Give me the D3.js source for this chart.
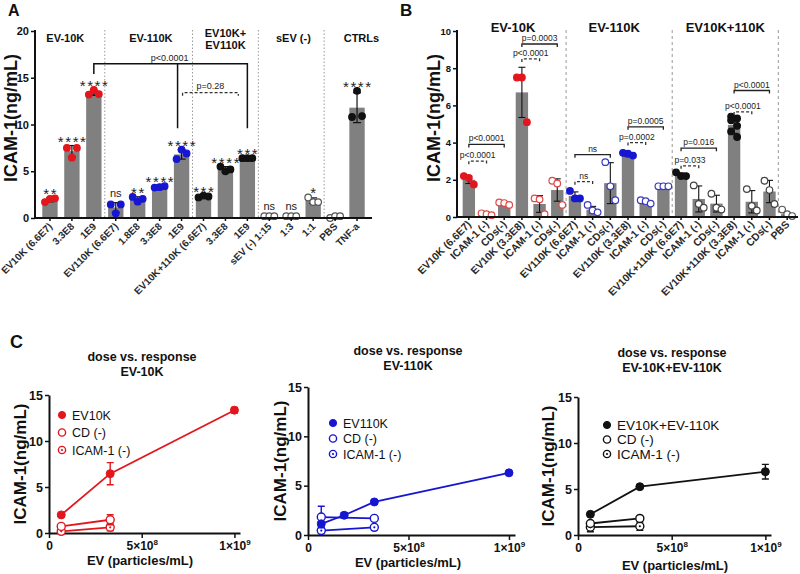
<!DOCTYPE html>
<html><head><meta charset="utf-8">
<script src="https://cdn.jsdelivr.net/npm/d3@7"></script>
<style>body{margin:0;background:#fff} svg{font-family:Arial,"Liberation Sans",sans-serif}</style>
</head><body><svg id="c" width="800" height="574"></svg>
<script>
// ---------------- DATA ----------------
// Panel A
const catsA = ["EV10K (6.6E7)","3.3E8","1E9","EV110K (6.6E7)","1.8E8","3.3E8","1E9","EV10K+110K (6.6E7)","3.3E8","1E9","sEV (-) 1:15","1:3","1:1","PBS","TNF-a"];
const seriesA = ["EV-10K","EV-10K","EV-10K","EV-110K","EV-110K","EV-110K","EV-110K","mix","mix","mix","sEV","sEV","sEV","PBS","TNF"];
const meanA = [1.93,7.15,13.4,1.12,2.02,3.32,6.8,2.3,5.2,6.4,0.2,0.2,1.85,0.13,11.8];
const sdA   = [0.2,0.6,0.28,0.52,0.25,0.08,0.5,0.1,0.3,0.05,0.03,0.03,0.3,0.1,1.6];
const ptsA  = [[1.7,2.05,2.1],[7.5,6.45,7.5],[13.2,13.7,13.25],[1.45,0.5,1.45],[2.25,1.75,2.05],[3.25,3.3,3.4],[6.3,7.3,6.9],[2.2,2.4,2.3],[5.5,5.0,5.2],[6.4,6.4,6.4],[0.2,0.2,0.2],[0.2,0.2,0.2],[2.2,1.7,1.7],[0.0,0.2,0.2],[10.8,13.6,10.9]];
const starsA = ["**","****","****","ns","**","****","****","***","****","***","ns","ns","*","","****"];
const groupLabelsA = [["EV-10K"],["EV-110K"],["EV10K+","EV110K"],["sEV (-)"],["CTRLs"]];
const yTicksA = [0,5,10,15,20];

// Panel B
const catsB = ["EV10K (6.6E7)","ICAM-1 (-)","CDs(-)","EV10K (3.3E8)","ICAM-1 (-)","CDs(-)","EV110K (6.6E7)","ICAM-1 (-)","CDs(-)","EV110K (3.3E8)","ICAM-1 (-)","CDs(-)","EV10K+110K (6.6E7)","ICAM-1 (-)","CDs(-)","EV10K+110K (3.3E8)","ICAM-1 (-)","CDs(-)","PBS"];
const seriesB = ["EV-10K","EV-10K","EV-10K","EV-10K","EV-10K","EV-10K","EV-110K","EV-110K","EV-110K","EV-110K","EV-110K","EV-110K","mix","mix","mix","mix","mix","mix","PBS"];
const treatedB = [true,false,false,true,false,false,true,false,false,true,false,false,true,false,false,true,false,false,false];
const meanB = [2.0,0.15,0.72,6.7,0.7,1.45,1.13,0.4,1.82,3.35,0.82,1.65,2.25,0.97,0.72,4.95,0.82,1.37,0.15];
const sdB   = [0.2,0.05,0.06,1.35,0.45,0.6,0.22,0.17,1.1,0.1,0.1,0.02,0.12,0.7,0.45,0.45,0.6,0.6,0];
const ptsB  = [[2.2,2.1,1.75],[0.2,0.15,0.1],[0.78,0.75,0.65],[7.5,7.5,5.1],[1.0,0.95,0.15],[1.95,1.8,0.65],[1.4,1.0,1.0],[0.65,0.35,0.25],[2.95,1.65,0.9],[3.45,3.4,3.3],[0.9,0.85,0.72],[1.65,1.65,1.65],[2.4,2.2,2.2],[1.7,0.7,0.5],[1.25,0.5,0.4],[5.4,5.3,5.2,4.9,4.6,4.3],[1.5,0.6,0.35],[1.95,1.45,0.7],[0.4,0.15,0.05]];
const groupLabelsB = ["EV-10K","EV-110K","EV10K+110K"];
const yTicksB = [0,2,4,6,8,10];
// comparisons: [from, to, y (ng/mL), label, dashed]
const compsB = [[0,1,3.0,"p<0.0001",true],[0,2,3.9,"p<0.0001",false],[3,4,8.5,"p<0.0001",true],[3,5,9.3,"p=0.0003",false],
  [6,7,1.9,"ns",true],[6,8,3.35,"ns",false],[9,10,4.0,"p=0.0002",true],[9,11,4.85,"p=0.0005",false],
  [12,13,2.75,"p=0.033",true],[12,14,3.7,"p=0.016",false],[15,16,5.65,"p<0.0001",true],[15,17,6.8,"p<0.0001",false]];

// Panel C
const doseEV10K = [6.6e7,3.3e8,1e9];
const doseEV110K = [6.6e7,1.8e8,3.3e8,1e9];
const doseCtrl = [6.6e7,3.3e8];
const c10K_ev = [1.97,6.45,13.35],  c10K_evErr = [0.15,1.2,0.3];
const c10K_cd = [0.72,1.44],        c10K_cdErr = [0.06,0.55];
const c10K_icam = [0.18,0.62],      c10K_icamErr = [0.05,0.38];
const c110K_ev = [1.13,2.0,3.35,6.3], c110K_evErr = [0.22,0.25,0.1,0.05];
const c110K_cd = [1.82,1.68],       c110K_cdErr = [1.1,0.03];
const c110K_icam = [0.45,0.78],     c110K_icamErr = [0.17,0.1];
const cMix_ev = [2.25,5.25,6.88],   cMix_evErr = [0.12,0.1,0.8];
const cMix_cd = [1.25,1.8],         cMix_cdErr = [0.1,0.1];
const cMix_icam = [0.85,0.95],      cMix_icamErr = [0.5,0.45];
const xTicksC = [0,5e8,1e9];
const yTicksC = [0,5,10,15];

// ---------------- STYLE ----------------
const RED="#e3161e", BLUE="#1616d2", BLACK="#111", BAR="#808080";
const colorOf = {"EV-10K":RED,"EV-110K":BLUE,"mix":BLACK,"sEV":"#555","PBS":"#555","TNF":BLACK};
const openStroke = {"EV-10K":"#e04848","EV-110K":"#3a3ac4","mix":"#444","PBS":"#555"};

const svg = d3.select("#c");
svg.append("rect").attr("width",800).attr("height",574).attr("fill","#fff");

function jitter(n,i){ if(n===3) return [-5,0,5][i]; if(n===6) return [-3,3,-3,3,-3,3][i]; return 0; }
function styleAxis(g, fs){
  g.select(".domain").attr("stroke","#111").attr("stroke-width",2);
  g.selectAll(".tick line").attr("stroke","#111").attr("stroke-width",1.5);
  g.selectAll(".tick text").attr("fill","#111").attr("font-weight","bold").attr("font-size",fs);
}
function bracket(g,x1,x2,y,dashed,tick){
  const p = d3.path(); p.moveTo(x1,y+tick); p.lineTo(x1,y); p.lineTo(x2,y); p.lineTo(x2,y+tick);
  g.append("path").attr("d",p.toString()).attr("fill","none").attr("stroke",dashed?"#333":"#222")
    .attr("stroke-width",1.3).attr("stroke-dasharray",dashed?"3,2":null);
}

// ---------------- PANEL A ----------------
(function(){
  const g = svg.append("g");
  const y = d3.scaleLinear().domain([0,20]).range([218,31]);
  const x = d3.scaleBand().domain(d3.range(catsA.length)).range([39,368]).paddingInner(0.3).paddingOuter(0.15);
  const cx = i => x(i)+x.bandwidth()/2;
  [2,6,9,12].forEach(i=>{
    const xs=(cx(i)+cx(i+1))/2;
    g.append("line").attr("x1",xs).attr("x2",xs).attr("y1",30).attr("y2",218).attr("stroke","#999").attr("stroke-width",1).attr("stroke-dasharray","1.5,2");
  });
  g.selectAll("rect.bar").data(meanA).join("rect").attr("x",(d,i)=>x(i)).attr("width",x.bandwidth())
    .attr("y",d=>y(d)).attr("height",d=>y(0)-y(d)).attr("fill",BAR);
  meanA.forEach((m,i)=>{
    const c=cx(i), t=y(m+sdA[i]), b=y(Math.max(0,m-sdA[i]));
    g.append("line").attr("x1",c).attr("x2",c).attr("y1",t).attr("y2",b).attr("stroke","#111").attr("stroke-width",1.2);
    g.append("line").attr("x1",c-4).attr("x2",c+4).attr("y1",t).attr("y2",t).attr("stroke","#111").attr("stroke-width",1.2);
    g.append("line").attr("x1",c-4).attr("x2",c+4).attr("y1",b).attr("y2",b).attr("stroke","#111").attr("stroke-width",1.2);
  });
  ptsA.forEach((arr,i)=>{
    const s=seriesA[i], open=(s==="sEV"||s==="PBS");
    arr.forEach((v,j)=>{
      g.append("circle").attr("cx",cx(i)+jitter(arr.length,j)).attr("cy",y(v)).attr("r",3.3)
        .attr("fill",open?"#fff":colorOf[s]).attr("stroke",open?"#555":colorOf[s]).attr("stroke-width",1.2);
    });
  });
  starsA.forEach((s,i)=>{
    if(!s) return;
    const top=y(Math.max(meanA[i]+sdA[i], d3.max(ptsA[i])));
    const isNs = s==="ns";
    g.append("text").attr("x",cx(i)+(isNs?0:0.8)).attr("y",top-(isNs?6:-1)).attr("text-anchor","middle")
      .attr("font-size",isNs?11:15).attr("letter-spacing",isNs?0:1.6).attr("fill","#222").text(s);
  });
  const ya = g.append("g").attr("transform","translate(35,0)").call(d3.axisLeft(y).tickValues(yTicksA).tickSize(4).tickPadding(2).tickSizeOuter(0));
  styleAxis(ya,11);
  ya.select(".domain").attr("d","M0,218V30");
  const xa = g.append("g").attr("transform","translate(0,218)").call(d3.axisBottom(x).tickSize(3).tickSizeOuter(0).tickFormat(i=>catsA[i]));
  styleAxis(xa,10);
  xa.select(".domain").attr("d","M35,0H372");
  xa.selectAll(".tick text").attr("y",0).attr("dy",0).attr("transform","translate(3,9) rotate(-45)").attr("text-anchor","end").attr("fill","#2a2a2a");
  const gpos=[0.7,4.6,8,11.1,14.2];
  groupLabelsA.forEach((lines,k)=>{
    const xx = x(0)+x.bandwidth()/2 + gpos[k]*x.step();
    lines.forEach((t,li)=>{
      g.append("text").attr("x",xx).attr("y",lines.length>1?37+li*12:42).attr("text-anchor","middle")
        .attr("font-weight","bold").attr("font-size",11).attr("fill","#111").text(t);
    });
  });
  const yl=y(16.5), xl=cx(2), xm=cx(6)-4, xr=cx(9);
  g.append("path").attr("d",`M${xl},${y(15.4)}V${yl}H${xr}V${y(9.6)}M${xm},${yl}V${y(9.6)}`).attr("fill","none").attr("stroke","#111").attr("stroke-width",1.5);
  g.append("text").attr("x",xm-8).attr("y",yl-3).attr("text-anchor","middle").attr("font-size",9).attr("fill","#222").text("p<0.0001");
  const yd=y(13.4);
  bracket(g,cx(6)+1,cx(9)-9,yd,true,3);
  g.append("text").attr("x",(cx(6)+cx(9)-8)/2).attr("y",yd-4).attr("text-anchor","middle").attr("font-size",9).attr("fill","#222").text("p=0.28");
  g.append("text").attr("transform","translate(17,118) rotate(-90)").attr("text-anchor","middle").attr("font-weight","bold").attr("font-size",18).attr("fill","#111").text("ICAM-1(ng/mL)");
  g.append("text").attr("x",8).attr("y",16).attr("font-weight","bold").attr("font-size",16).attr("fill","#111").text("A");
})();

// ---------------- PANEL B ----------------
(function(){
  const g = svg.append("g");
  const y = d3.scaleLinear().domain([0,10]).range([217,31]);
  const x = d3.scaleBand().domain(d3.range(catsB.length)).range([460,796]).paddingInner(0.3).paddingOuter(0.15);
  const cx = i => x(i)+x.bandwidth()/2;
  [5,11,17].forEach(i=>{
    const xs=(cx(i)+cx(i+1))/2;
    g.append("line").attr("x1",xs).attr("x2",xs).attr("y1",30).attr("y2",217).attr("stroke","#999").attr("stroke-width",1).attr("stroke-dasharray","3,3");
  });
  g.selectAll("rect.bar").data(meanB).join("rect").attr("x",(d,i)=>x(i)).attr("width",x.bandwidth())
    .attr("y",d=>y(d)).attr("height",d=>y(0)-y(d)).attr("fill",BAR);
  meanB.forEach((m,i)=>{
    if(!sdB[i]) return;
    const c=cx(i), t=y(m+sdB[i]), b=y(Math.max(0,m-sdB[i]));
    g.append("line").attr("x1",c).attr("x2",c).attr("y1",t).attr("y2",b).attr("stroke","#111").attr("stroke-width",1.1);
    g.append("line").attr("x1",c-3.5).attr("x2",c+3.5).attr("y1",t).attr("y2",t).attr("stroke","#111").attr("stroke-width",1.1);
    g.append("line").attr("x1",c-3.5).attr("x2",c+3.5).attr("y1",b).attr("y2",b).attr("stroke","#111").attr("stroke-width",1.1);
  });
  ptsB.forEach((arr,i)=>{
    const s=seriesB[i], filled=treatedB[i];
    arr.forEach((v,j)=>{
      g.append("circle").attr("cx",cx(i)+jitter(arr.length,j)).attr("cy",y(v)).attr("r",3.3)
        .attr("fill",filled?colorOf[s]:"#fff").attr("stroke",filled?colorOf[s]:openStroke[s]).attr("stroke-width",1.2);
    });
  });
  compsB.forEach(([a,b,v,lab,dashed])=>{
    const yy=y(v);
    bracket(g,cx(a),cx(b),yy,dashed,3);
    g.append("text").attr("x",(cx(a)+cx(b))/2).attr("y",yy-3).attr("text-anchor","middle").attr("font-size",8.5).attr("fill","#222").text(lab);
  });
  const ya = g.append("g").attr("transform","translate(457,0)").call(d3.axisLeft(y).tickValues(yTicksB).tickSize(4).tickPadding(2).tickSizeOuter(0));
  styleAxis(ya,9.5);
  ya.select(".domain").attr("d","M0,217V30");
  const xa = g.append("g").attr("transform","translate(0,217)").call(d3.axisBottom(x).tickSize(3).tickSizeOuter(0).tickFormat(i=>catsB[i]));
  styleAxis(xa,10.5);
  xa.select(".domain").attr("d","M457,0H798");
  xa.selectAll(".tick text").attr("y",0).attr("dy",0).attr("transform","translate(3,8) rotate(-45)").attr("text-anchor","end").attr("fill","#2a2a2a");
  groupLabelsB.forEach((t,k)=>{
    const xx=(cx(k*6)+cx(k*6+5))/2 - (k===1?5:0);
    g.append("text").attr("x",xx).attr("y",32).attr("text-anchor","middle").attr("font-weight","bold").attr("font-size",13).attr("fill","#111").text(t);
  });
  g.append("text").attr("transform","translate(440,118) rotate(-90)").attr("text-anchor","middle").attr("font-weight","bold").attr("font-size",18).attr("fill","#111").text("ICAM-1(ng/mL)");
  g.append("text").attr("x",400).attr("y",16).attr("font-weight","bold").attr("font-size",17).attr("fill","#111").text("B");
})();

// ---------------- PANEL C ----------------
function marker(g,cx,cy,kind,col,r){
  if(kind==="fill"){ g.append("circle").attr("cx",cx).attr("cy",cy).attr("r",r).attr("fill",col).attr("stroke",col); return; }
  g.append("circle").attr("cx",cx).attr("cy",cy).attr("r",r).attr("fill","#fff").attr("stroke",col).attr("stroke-width",1.4);
  if(kind==="dot") g.append("circle").attr("cx",cx).attr("cy",cy).attr("r",1.1).attr("fill",col);
}
function linePanel(cfg){
  const g = svg.append("g");
  const x = d3.scaleLinear().domain([0,1.03e9]).range([cfg.x0,cfg.x1]);
  const y = d3.scaleLinear().domain([0,15]).range([cfg.y0,cfg.y1]);
  const ya = g.append("g").attr("transform",`translate(${cfg.x0},0)`).call(d3.axisLeft(y).tickValues(yTicksC).tickSize(4).tickPadding(2).tickSizeOuter(0));
  styleAxis(ya,12.5);
  const xa = g.append("g").attr("transform",`translate(0,${cfg.y0})`).call(d3.axisBottom(x).tickValues(xTicksC).tickSize(5).tickPadding(3).tickSizeOuter(0));
  styleAxis(xa,12);
  xa.selectAll(".tick text").each(function(d){
    const t=d3.select(this); t.text(null);
    if(d===0){ t.text("0"); return; }
    const e = d>=1e9?9:8, m=d/Math.pow(10,e);
    t.append("tspan").text(m+"×10");
    t.append("tspan").attr("dy",-5).attr("font-size",8).text(e);
  });
  const drawSeries=(xs,ys,es,kind)=>{
    const col=cfg.color;
    const line=d3.line().x((d,i)=>x(xs[i])).y(d=>y(d));
    g.append("path").attr("d",line(ys)).attr("fill","none").attr("stroke",col).attr("stroke-width",1.8);
    ys.forEach((v,i)=>{
      const c=x(xs[i]), t=y(v+es[i]), b=y(Math.max(0,v-es[i]));
      g.append("path").attr("d",`M${c},${t}V${b}M${c-3.5},${t}H${c+3.5}M${c-3.5},${b}H${c+3.5}`).attr("stroke",col).attr("stroke-width",1.4).attr("fill","none");
    });
    ys.forEach((v,i)=>marker(g,x(xs[i]),y(v),kind,col,4));
  };
  drawSeries(doseCtrl,cfg.icam,cfg.icamErr,"dot");
  drawSeries(doseCtrl,cfg.cd,cfg.cdErr,"open");
  drawSeries(cfg.evX,cfg.ev,cfg.evErr,"fill");
  cfg.legend.forEach((lab,k)=>{
    const yy=cfg.legY+k*cfg.legDy;
    marker(g,cfg.legX,yy,["fill","open","dot"][k],cfg.color,3.6);
    g.append("text").attr("x",cfg.legX+10).attr("y",yy).attr("dy","0.36em").attr("font-size",cfg.legFs).attr("fill","#111").text(lab);
  });
  cfg.title.forEach((t,k)=>g.append("text").attr("x",cfg.tx).attr("y",cfg.ty+k*14.5).attr("text-anchor","middle").attr("font-weight","bold").attr("font-size",12.5).attr("fill","#111").text(t));
  g.append("text").attr("x",cfg.xlx).attr("y",cfg.xly).attr("text-anchor","middle").attr("font-weight","bold").attr("font-size",13).attr("fill","#111").text("EV (particles/mL)");
  g.append("text").attr("transform",`translate(${cfg.ylx},${(cfg.y0+cfg.y1)/2}) rotate(-90)`).attr("dy","0.35em").attr("text-anchor","middle").attr("font-weight","bold").attr("font-size",17).attr("fill","#111").text("ICAM-1(ng/mL)");
}

linePanel({x0:49,x1:240,y0:533,y1:395,color:RED,evX:doseEV10K,ev:c10K_ev,evErr:c10K_evErr,cd:c10K_cd,cdErr:c10K_cdErr,icam:c10K_icam,icamErr:c10K_icamErr,
  legend:["EV10K","CD (-)","ICAM-1 (-)"],legX:62,legY:415,legDy:17.5,legFs:12.5,title:["dose vs. response","EV-10K"],tx:142,ty:361,xlx:140,xly:565,ylx:20});
linePanel({x0:308,x1:515,y0:535,y1:387,color:BLUE,evX:doseEV110K,ev:c110K_ev,evErr:c110K_evErr,cd:c110K_cd,cdErr:c110K_cdErr,icam:c110K_icam,icamErr:c110K_icamErr,
  legend:["EV110K","CD (-)","ICAM-1 (-)"],legX:333,legY:423,legDy:15.5,legFs:12.5,title:["dose vs. response","EV-110K"],tx:408,ty:355,xlx:408,xly:567,ylx:280});
linePanel({x0:578,x1:771,y0:535,y1:397,color:BLACK,evX:doseEV10K,ev:cMix_ev,evErr:cMix_evErr,cd:cMix_cd,cdErr:cMix_cdErr,icam:cMix_icam,icamErr:cMix_icamErr,
  legend:["EV10K+EV-110K","CD (-)","ICAM-1 (-)"],legX:607,legY:425,legDy:14.5,legFs:13.5,title:["dose vs. response","EV-10K+EV-110K"],tx:672,ty:357,xlx:675,xly:570,ylx:548});
svg.append("text").attr("x",10).attr("y",348).attr("font-weight","bold").attr("font-size",18).attr("fill","#111").text("C");
</script></body></html>
